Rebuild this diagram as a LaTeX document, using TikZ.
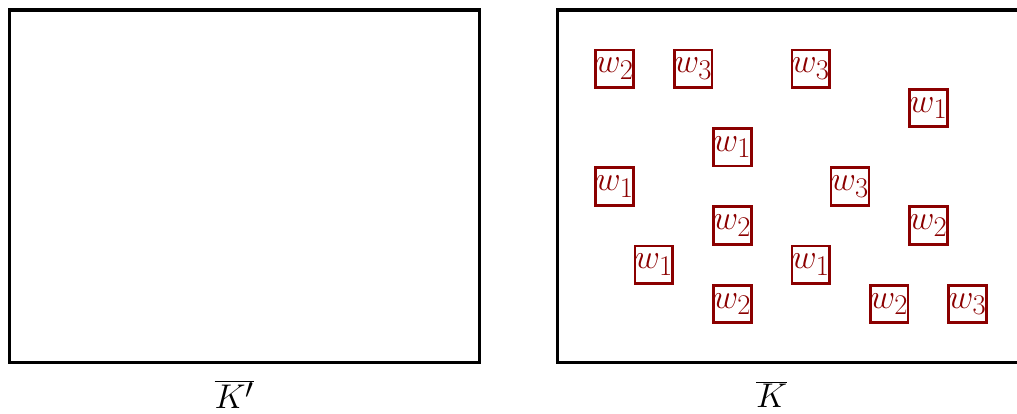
\documentclass[tikz,border=0pt]{standalone}
\definecolor{wRed}{RGB}{139,0,0}

\begin{document}
\begin{tikzpicture}[font=\Huge,
  wbox/.style={draw=wRed, text=wRed, line width=2pt, minimum size=0.96cm, inner sep=0pt}]

  \useasboundingbox (-0.23,-1.30) rectangle (25.71,9.255);

  % The two frames
  \draw[line width=2.2pt] (0,0) rectangle (12,9);
  \draw[line width=2.2pt] (14,0) rectangle (26,9);

  % Labels under the frames
  \node (kp) at (5.75,-0.8) {$\overline{K'}$};
  \node (k) at (19.45,-0.8) {$\overline{K}$};

  % Boxed words in the right frame
  \foreach \x/\y/\i [count=\n] in {15.45/7.5/2, 17.45/7.5/3, 20.45/7.5/3, 23.45/6.5/1,
      18.45/5.5/1, 15.45/4.5/1, 21.45/4.5/3, 18.45/3.5/2, 23.45/3.5/2,
      16.45/2.5/1, 20.45/2.5/1, 18.45/1.5/2, 22.45/1.5/2, 24.45/1.5/3} {
    \node[wbox] (w\n) at (\x,\y) {$w_\i$};
  }

\end{tikzpicture}
\end{document}
